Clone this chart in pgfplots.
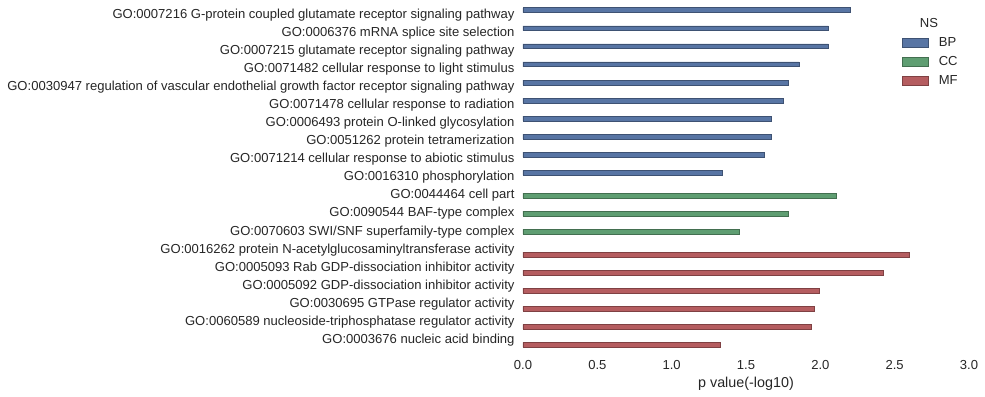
\documentclass[border=0pt]{standalone}
\usepackage{fontspec}
\setmainfont{Liberation Sans}
\usepackage{pgfplots}
\pgfplotsset{compat=1.18}
\definecolor{BPc}{HTML}{5875A4}
\definecolor{CCc}{HTML}{5F9E72}
\definecolor{MFc}{HTML}{B55D60}
\definecolor{txt}{RGB}{38,38,38}
\begin{document}
\begin{tikzpicture}
\path[use as bounding box] (-523bp,-48bp) rectangle (462bp,349bp);
\begin{axis}[
  at={(0,0)}, anchor=south west,
  scale only axis, width=446bp, height=343bp,
  xmin=0, xmax=3, ymin=-0.5, ymax=18.5, y dir=reverse,
  axis line style={draw=none}, major tick length=0,
  font=\fontsize{13.1}{15.5}\selectfont,
  every tick label/.append style={text=txt, font=\fontsize{13.1}{15.5}\selectfont},
  /pgf/number format/assume math mode=true,
  xtick={0,0.5,1,1.5,2,2.5,3},
  xticklabel style={yshift=-8bp, /pgf/number format/fixed,/pgf/number format/fixed zerofill,/pgf/number format/precision=1},
  yticklabel style={xshift=-5bp},
  ytick={0,...,18},
  yticklabels={
    GO:0007216 G-protein coupled glutamate receptor signaling pathway,
    GO:0006376 mRNA splice site selection,
    GO:0007215 glutamate receptor signaling pathway,
    GO:0071482 cellular response to light stimulus,
    GO:0030947 regulation of vascular endothelial growth factor receptor signaling pathway,
    GO:0071478 cellular response to radiation,
    GO:0006493 protein O-linked glycosylation,
    GO:0051262 protein tetramerization,
    GO:0071214 cellular response to abiotic stimulus,
    GO:0016310 phosphorylation,
    GO:0044464 cell part,
    GO:0090544 BAF-type complex,
    GO:0070603 SWI/SNF superfamily-type complex,
    GO:0016262 protein N-acetylglucosaminyltransferase activity,
    GO:0005093 Rab GDP-dissociation inhibitor activity,
    GO:0005092 GDP-dissociation inhibitor activity,
    GO:0030695 GTPase regulator activity,
    GO:0060589 nucleoside-triphosphatase regulator activity,
    GO:0003676 nucleic acid binding},
  xlabel={p value(-log10)},
  xlabel style={text=txt, font=\fontsize{14.4}{17}\selectfont},
  bar width=0.267,
  clip=false,
  legend style={at={(0.8498,0.915)}, anchor=north west, draw=none, fill=none,
    inner sep=0pt, row sep=4.5bp, cells={anchor=west}, text=txt,
    font=\fontsize{13.1}{15.5}\selectfont},
  legend image code/.code={\draw[#1] (0bp,-4.5bp) rectangle (26bp,4.5bp); \path (34bp,0bp);},
]
\addplot[xbar, fill=BPc, draw=BPc!70!black, line width=0.6bp, bar shift=-0.267] coordinates {
  (2.200,0) (2.054,1) (2.054,2) (1.857,3) (1.782,4) (1.749,5)
  (1.668,6) (1.668,7) (1.621,8) (1.339,9)};
\addlegendentry{BP}
\addplot[xbar, fill=CCc, draw=CCc!70!black, line width=0.6bp, bar shift=0] coordinates {
  (2.105,10) (1.782,11) (1.453,12)};
\addlegendentry{CC}
\addplot[xbar, fill=MFc, draw=MFc!70!black, line width=0.6bp, bar shift=0.267] coordinates {
  (2.596,13) (2.421,14) (1.991,15) (1.957,16) (1.937,17) (1.325,18)};
\addlegendentry{MF}
\node[text=txt, font=\fontsize{13.1}{15.5}\selectfont] at (axis cs:2.731,0.45) {NS};
\end{axis}
\end{tikzpicture}
\end{document}
